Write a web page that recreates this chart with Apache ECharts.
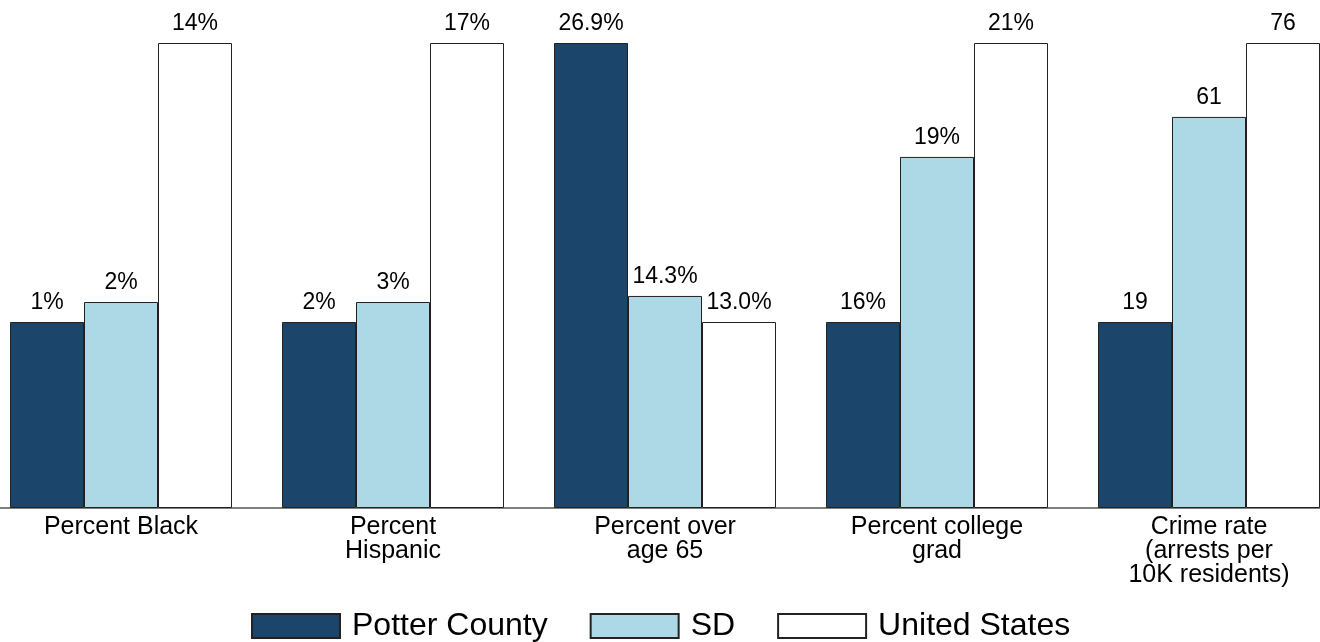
<!DOCTYPE html>
<html>
<head>
<meta charset="utf-8">
<script src="https://cdn.jsdelivr.net/npm/echarts@6/dist/echarts.min.js"></script>
<style>html,body{margin:0;padding:0;background:#fff;overflow:hidden;width:1320px;height:642px}#c{position:absolute;left:-15px;top:0;width:1360px;height:642px}</style>
</head>
<body>
<div id="c"></div>
<script>
var categories = ['Percent Black', 'Percent\nHispanic', 'Percent over\nage 65', 'Percent college\ngrad', 'Crime rate\n(arrests per\n10K residents)'];
var seriesNames = ['Potter County', 'SD', 'United States'];
// bar heights (relative, tallest bar in each group = 100)
var potterHeights = [40, 40, 100, 40, 40];
var sdHeights = [44.3, 44.3, 45.6, 75.5, 84.1];
var usHeights = [100, 100, 40, 100, 100];
// value labels shown above the bars
var potterLabels = ['1%', '2%', '26.9%', '16%', '19'];
var sdLabels = ['2%', '3%', '14.3%', '19%', '61'];
var usLabels = ['14%', '17%', '13.0%', '21%', '76'];

var colors = ['#1c456c', '#add8e6', '#ffffff'];
var heights = [potterHeights, sdHeights, usHeights];
var labels = [potterLabels, sdLabels, usLabels];
var FONT = '"Liberation Sans", Arial, sans-serif';

var series = seriesNames.map(function (name, i) {
  return {
    name: name,
    type: 'bar',
    data: heights[i],
    barWidth: 74,
    barGap: '0%',
    itemStyle: { color: colors[i], borderColor: '#222', borderWidth: 1 },
    label: {
      show: true,
      position: 'top',
      distance: 8,
      color: '#000',
      fontFamily: FONT,
      fontSize: 23,
      formatter: function (p) { return labels[i][p.dataIndex]; }
    },
    emphasis: { disabled: true }
  };
});

var chart = echarts.init(document.getElementById('c'), null, { renderer: 'canvas' });
chart.setOption({
  animation: false,
  grid: { left: 0, right: 0, top: 43, bottom: 134, containLabel: false },
  legend: {
    data: seriesNames,
    left: 261,
    top: 605,
    itemWidth: 88,
    itemHeight: 24,
    itemGap: 42,
    icon: 'rect',
    textStyle: { fontFamily: FONT, fontSize: 32, color: '#000', padding: [0, 0, 0, 7] }
  },
  xAxis: {
    type: 'category',
    data: categories,
    axisLine: { show: true, lineStyle: { color: '#555', width: 1.5 } },
    axisTick: { show: false },
    axisLabel: { color: '#000', fontFamily: FONT, fontSize: 25, lineHeight: 24, margin: 7, interval: 0 }
  },
  yAxis: {
    type: 'value',
    min: 0,
    max: 100,
    show: false,
    splitLine: { show: false }
  },
  series: series
});
</script>
</body>
</html>
